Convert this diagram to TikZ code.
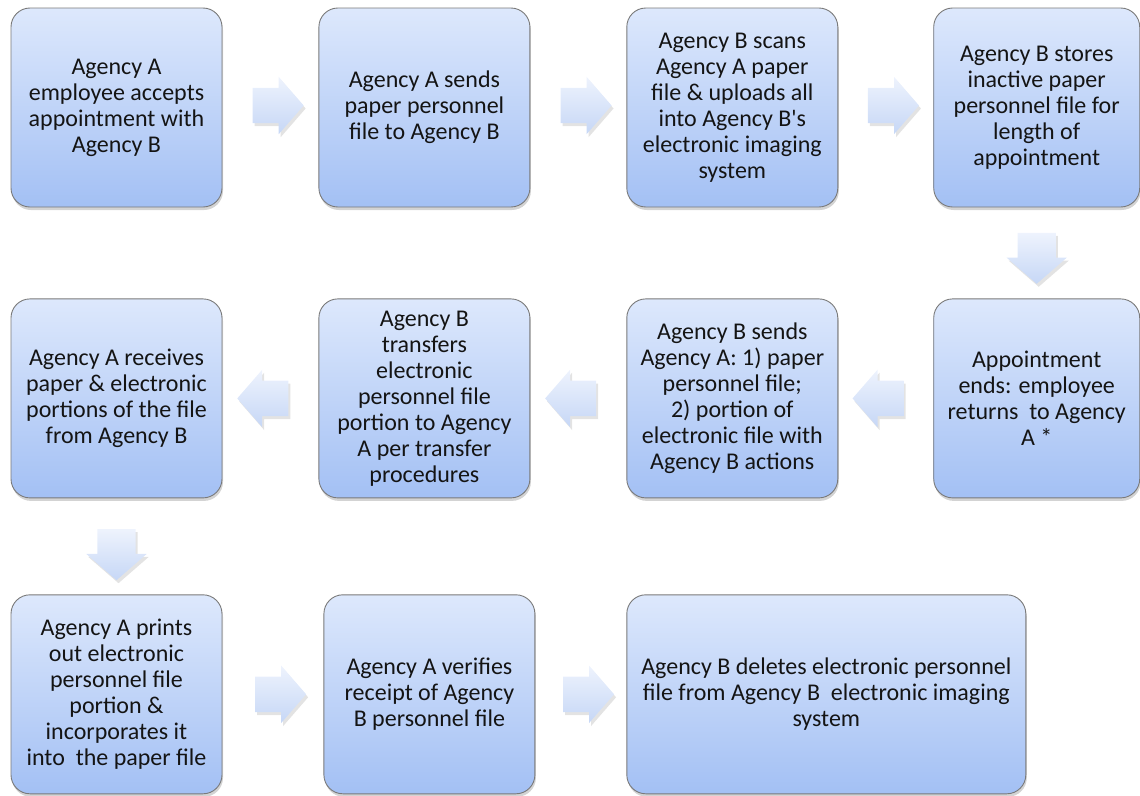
\documentclass[tikz,border=0pt]{standalone}
\usepackage{fontspec}
\setmainfont{Carlito}
\usetikzlibrary{shapes.arrows,shadows,calc,positioning}

\definecolor{boxtop}{HTML}{DDE8FC}
\definecolor{boxbot}{HTML}{A3C0F4}
\definecolor{boxline}{HTML}{7A7A7A}
\definecolor{arrtop}{HTML}{EEF3FD}
\definecolor{arrbot}{HTML}{C6D7F6}
\definecolor{boxtext}{HTML}{141414}

\tikzset{
  stagebox/.style={draw=boxline,line width=0.9pt,rounded corners=19pt,
    top color=boxtop,bottom color=boxbot,text=boxtext,
    minimum width=211pt,minimum height=199pt,align=center,inner sep=3pt,
    font=\fontsize{24}{26}\selectfont,
    drop shadow={shadow xshift=1pt,shadow yshift=-3pt,opacity=0.35}},
  flowarrow/.style={single arrow,single arrow head extend=11pt,
    single arrow tip angle=98,minimum height=51pt,inner xsep=0pt,inner ysep=17.5pt,
    top color=arrtop,bottom color=arrbot,draw=none,
    drop shadow={shadow xshift=2pt,shadow yshift=-3pt,opacity=0.22}},
  downarrow/.style={flowarrow,shape border rotate=270,inner xsep=19pt,inner ysep=0pt}
}

\begin{document}
\begin{tikzpicture}[x=1pt,y=-1pt]
\useasboundingbox (0,0) rectangle (1140,795);

%%%%%%%%%%%%%%%%%%%%%%%%%%%% first row
\node [stagebox] (stage1) at (116.5,107.5) {Agency A\\employee accepts\\appointment with\\Agency B};
\node [stagebox,anchor=west] (stage2) at ([xshift=96pt]stage1.east) {Agency A sends\\paper personnel\\file to Agency B};
\node [stagebox,anchor=west] (stage3) at ([xshift=96pt]stage2.east) {Agency B scans\\Agency A paper\\file \& uploads all\\into Agency B\textquotesingle s\\electronic imaging\\system};
\node [stagebox,anchor=west,minimum width=206pt] (stage4) at ([xshift=95pt]stage3.east) {Agency B stores\\inactive paper\\personnel file for\\length of\\appointment};

\node [flowarrow] (arr12) at ($(stage1.east)!0.5!(stage2.west)+(0,-2)$) {};
\node [flowarrow] (arr23) at ($(stage2.east)!0.5!(stage3.west)+(0,-2)$) {};
\node [flowarrow] (arr34) at ($(stage3.east)!0.5!(stage4.west)+(0,-2)$) {};

%%%%%%%%%%%%%%%%%%%%%%%%%%%% second row
\node [stagebox,anchor=north,minimum width=206pt] (stage5) at ([yshift=-91pt]stage4.south) {Appointment\\ends: employee\\returns\ \ to Agency\\A *};
\node [stagebox,anchor=north] (stage6) at ([yshift=-91pt]stage3.south) {Agency B sends\\Agency A: 1) paper\\personnel file;\\2) portion of\\electronic file with\\Agency B actions};
\node [stagebox,anchor=north] (stage7) at ([yshift=-91pt]stage2.south) {Agency B\\transfers\\electronic\\personnel file\\portion to Agency\\A per transfer\\procedures};
\node [stagebox,anchor=north] (stage8) at ([yshift=-91pt]stage1.south) {Agency A receives\\paper \& electronic\\portions of the file\\from Agency B};

\node [downarrow] (arr45) at ($(stage4.south)!0.5!(stage5.north)+(0,-3)$) {};
\node [flowarrow,shape border rotate=180] (arr56) at ($(stage5.west)!0.5!(stage6.east)$) {};
\node [flowarrow,shape border rotate=180] (arr67) at ($(stage6.west)!0.5!(stage7.east)$) {};
\node [flowarrow,shape border rotate=180] (arr78) at ($(stage7.west)!0.5!(stage8.east)$) {};

%%%%%%%%%%%%%%%%%%%%%%%%%%%% third row
\node [stagebox,anchor=north] (stage9) at ([yshift=-96pt]stage8.south) {Agency A prints\\out electronic\\personnel file\\portion \&\\incorporates it\\into\ \ the paper file};
\node [stagebox,anchor=west] (stage10) at ([xshift=101pt]stage9.east) {Agency A verifies\\receipt of Agency\\B personnel file};
\node [stagebox,anchor=west,minimum width=399pt] (stage11) at ([xshift=91pt]stage10.east) {Agency B deletes electronic personnel\\file from Agency B\ \ electronic imaging\\system};

\node [downarrow] (arr89) at ($(stage8.south)!0.5!(stage9.north)$) {};
\node [flowarrow] (arr910) at ($(stage9.east)!0.5!(stage10.west)$) {};
\node [flowarrow] (arr1011) at ($(stage10.east)!0.5!(stage11.west)$) {};

\end{tikzpicture}
\end{document}
